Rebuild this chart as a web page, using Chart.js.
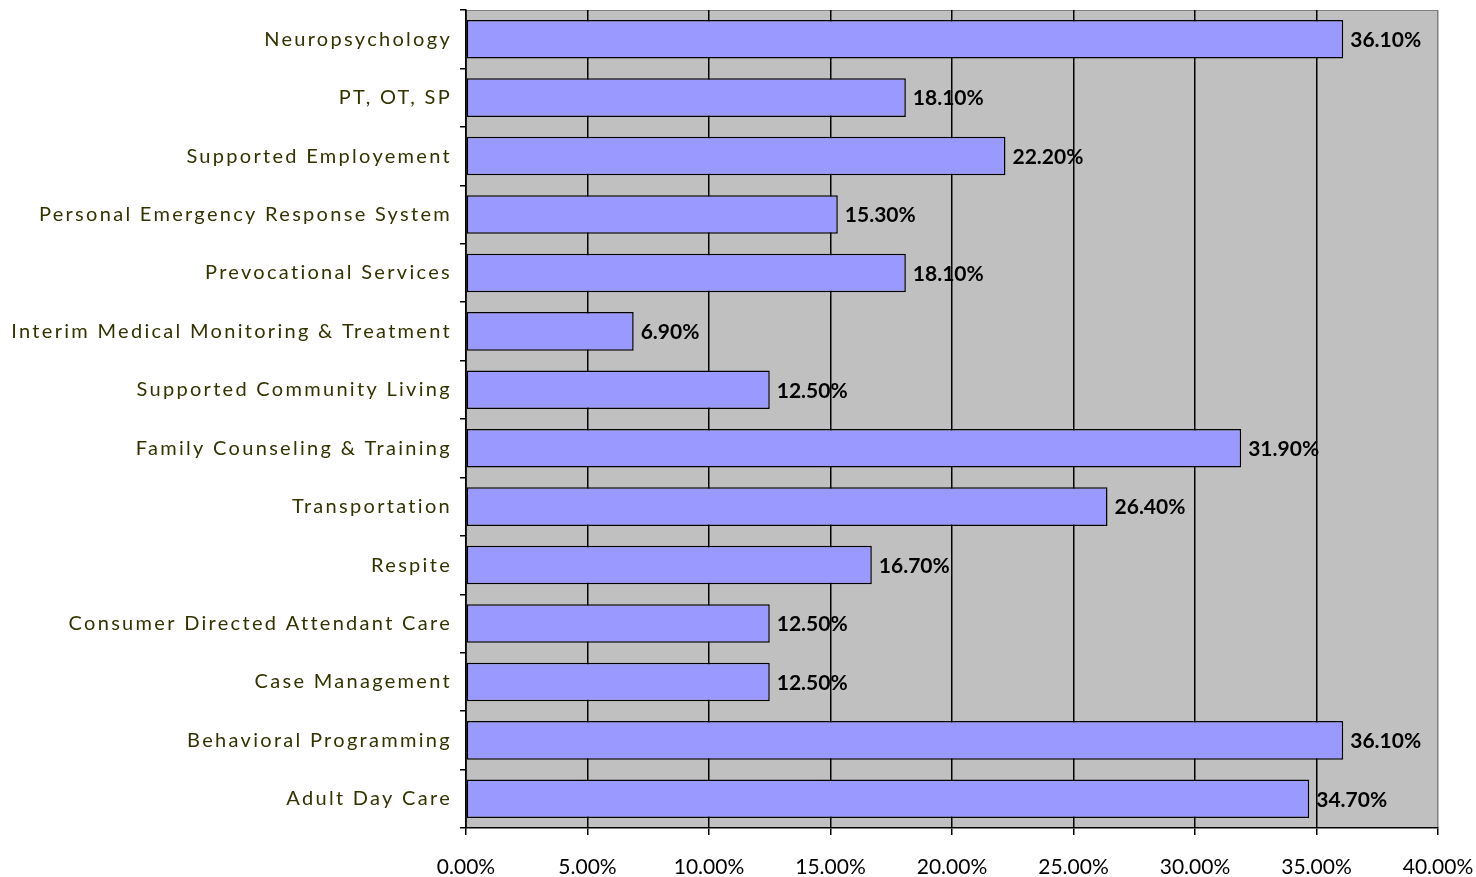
<!DOCTYPE html>
<html>
<head>
<meta charset="utf-8">
<script src="https://cdn.jsdelivr.net/npm/chart.js@4"></script>
<style>
  html, body { margin: 0; padding: 0; background: #fff; }
  #wrap { width: 1476px; height: 877px; }
</style>
</head>
<body>
<div id="wrap"><canvas id="chartServices"></canvas></div>
<script>
const services = [
  "Neuropsychology",
  "PT, OT, SP",
  "Supported Employement",
  "Personal Emergency Response System",
  "Prevocational Services",
  "Interim Medical Monitoring & Treatment",
  "Supported Community Living",
  "Family Counseling & Training",
  "Transportation",
  "Respite",
  "Consumer Directed Attendant Care",
  "Case Management",
  "Behavioral Programming",
  "Adult Day Care"
];
const percents = [36.1, 18.1, 22.2, 15.3, 18.1, 6.9, 12.5, 31.9, 26.4, 16.7, 12.5, 12.5, 36.1, 34.7];
const xTicks = [0, 5, 10, 15, 20, 25, 30, 35, 40];

const labelFont = "Lato, 'Open Sans', sans-serif";

// grey plot area with a thin grey frame
const plotBackground = {
  id: "plotBackground",
  beforeDraw(chart) {
    const a = chart.chartArea;
    const ctx = chart.ctx;
    ctx.letterSpacing = "0px";
    ctx.save();
    ctx.fillStyle = "#c0c0c0";
    ctx.fillRect(a.left, a.top, a.right - a.left, a.bottom - a.top);
    ctx.strokeStyle = "#808080";
    ctx.lineWidth = 1;
    ctx.strokeRect(a.left + 0.5, a.top + 0.5, a.right - a.left - 1, a.bottom - a.top - 1);
    ctx.restore();
  },
  afterDraw(chart) {
    chart.ctx.letterSpacing = "0px";
  }
};

// value labels at the end of each bar, then spaced-out category labels (y ticks z:1)
const barValues = {
  id: "barValues",
  afterDatasetsDraw(chart) {
    const ctx = chart.ctx;
    const meta = chart.getDatasetMeta(0);
    ctx.save();
    ctx.font = "bold 21px " + labelFont;
    ctx.fillStyle = "#000";
    ctx.textAlign = "left";
    ctx.textBaseline = "middle";
    meta.data.forEach((bar, i) => {
      ctx.fillText(percents[i].toFixed(2) + "%", bar.x + 7, bar.y + 1);
    });
    ctx.restore();
    ctx.letterSpacing = "2.3px";
  }
};

const ctx = document.getElementById("chartServices");

new Chart(ctx, {
  type: "bar",
  data: {
    labels: services,
    datasets: [{
      data: percents,
      backgroundColor: "#9999ff",
      borderColor: "#000",
      borderWidth: 1.5,
      borderSkipped: false,
      barPercentage: 0.66,
      categoryPercentage: 1
    }]
  },
  options: {
    indexAxis: "y",
    responsive: true,
    maintainAspectRatio: false,
    animation: false,
    layout: { padding: { top: 10, right: 38, left: 0, bottom: 0 } },
    plugins: {
      legend: { display: false },
      tooltip: { enabled: false }
    },
    scales: {
      x: {
        min: 0,
        max: 40,
        afterBuildTicks(axis) {
          axis.ticks = xTicks.map(v => ({ value: v }));
        },
        afterFit(axis) {
          axis.height = 49;
          axis.paddingLeft = 0;
          axis.paddingRight = 0;
        },
        border: { color: "#000", width: 1.5 },
        grid: {
          color: c => (c.tick && c.tick.value === 40 ? "#808080" : "#000"),
          lineWidth: 1.5,
          drawTicks: true,
          tickLength: 7,
          tickColor: "#000"
        },
        ticks: {
          color: "#000",
          padding: 20,
          maxRotation: 0,
          font: { family: labelFont, size: 21 },
          callback: v => v.toFixed(2) + "%"
        }
      },
      y: {
        afterFit(axis) {
          axis.width = 466;
          axis.paddingTop = 0;
          axis.paddingBottom = 0;
        },
        border: { color: "#000", width: 1.5 },
        grid: {
          drawOnChartArea: false,
          offset: true,
          tickLength: 6,
          tickColor: "#000",
          lineWidth: 1.5
        },
        ticks: {
          z: 1,
          color: "#333300",
          padding: 8,
          autoSkip: false,
          font: { family: labelFont, size: 20 }
        }
      }
    }
  },
  plugins: [plotBackground, barValues]
});
</script>
</body>
</html>
